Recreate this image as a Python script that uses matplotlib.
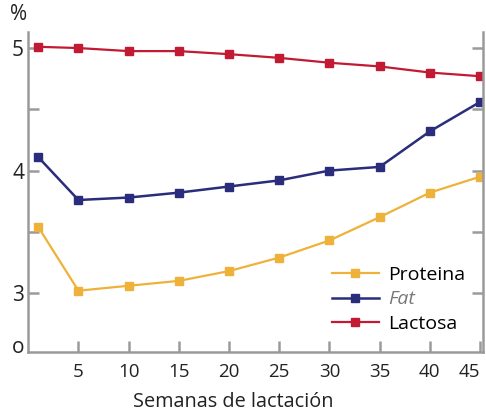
import numpy as np
import matplotlib.pyplot as plt

semanas = [1, 5, 10, 15, 20, 25, 30, 35, 40, 45]
proteina = [3.54, 3.02, 3.06, 3.10, 3.18, 3.29, 3.43, 3.62, 3.82, 3.95]
fat = [4.11, 3.76, 3.78, 3.82, 3.87, 3.92, 4.00, 4.03, 4.32, 4.56]
lactosa = [5.01, 5.00, 4.975, 4.975, 4.95, 4.92, 4.88, 4.85, 4.80, 4.77]

xticks = [5, 10, 15, 20, 25, 30, 35, 40, 45]
yticks = [2.575, 3, 4, 5]
ytick_labels = ['o', '3', '4', '5']

plt.rcParams['font.family'] = ['Open Sans', 'DejaVu Sans']

fig = plt.figure(figsize=(4.86, 4.17), dpi=100)
ax = fig.add_axes([0.058, 0.156, 0.936, 0.767])

c_prot = '#EEB23A'
c_fat = '#2A2C7C'
c_lac = '#C21A33'
grey = '#9A9A9A'

ax.plot(semanas, proteina, color=c_prot, lw=1.6, marker='s', ms=6, label='Proteina')
ax.plot(semanas, fat, color=c_fat, lw=1.8, marker='s', ms=6, label='Fat')
ax.plot(semanas, lactosa, color=c_lac, lw=1.6, marker='s', ms=6, label='Lactosa')

ax.set_xlim(0, 45.3)
ax.set_ylim(2.52, 5.13)

ax.spines['top'].set_visible(False)
for s in ['left', 'bottom', 'right']:
    ax.spines[s].set_color(grey)
    ax.spines[s].set_linewidth(1.8)

ax.set_xticks(xticks)
ax.set_xticklabels([str(t) for t in xticks], fontsize=13.5, color='#222222')
ax.get_xticklabels()[-1].set_horizontalalignment('right')
ax.set_yticks(yticks)
ax.set_yticklabels(ytick_labels, fontsize=15, color='#222222')
ax.set_yticks([3.5, 4.5], minor=True)
ax.tick_params(axis='both', which='both', direction='in', color=grey, width=1.8, length=8)
ax.tick_params(axis='x', pad=8)
ax.tick_params(axis='y', pad=3, right=True, which='both')
ax.yaxis.get_major_ticks()[0].tick1line.set_visible(False)
ax.yaxis.get_major_ticks()[0].tick2line.set_visible(False)

ax.set_xlabel('Semanas de lactación', fontsize=14.3, color='#222222')
ax.xaxis.set_label_coords(0.45, -0.125)
ax.text(-0.022, 1.055, '%', transform=ax.transAxes, fontsize=15, ha='center', va='center', color='#222222')

leg = ax.legend(loc='lower right', bbox_to_anchor=(1.0, 0.005), frameon=False,
                fontsize=14, handlelength=2.4, numpoints=1, labelspacing=0.33, handletextpad=0.5)
leg.get_texts()[1].set_style('italic')
leg.get_texts()[1].set_color('#777777')

fig.savefig('out.png', dpi=100)
